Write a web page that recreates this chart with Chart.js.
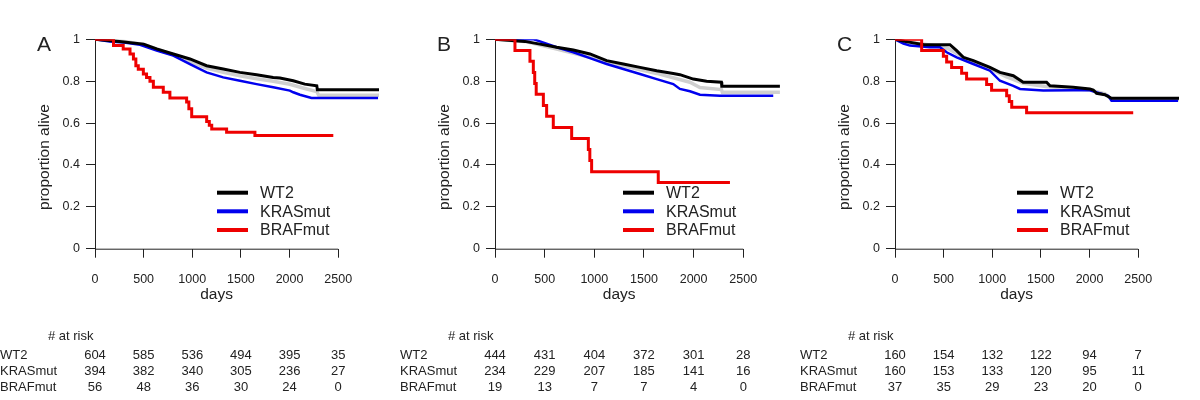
<!DOCTYPE html>
<html>
<head>
<meta charset="utf-8" />
<title>Survival by mutation status</title>
<script src="https://cdn.jsdelivr.net/npm/chart.js@4"></script>
<style>
  body { margin: 0; background: #fff; }
  #wrap { position: relative; width: 1200px; height: 400px; }
  .panel { position: absolute; top: 0; width: 400px; height: 400px; }
</style>
</head>
<body>
<div id="wrap">
  <div class="panel" style="left:0px"><canvas id="chartA" width="400" height="400"></canvas></div>
  <div class="panel" style="left:400px"><canvas id="chartB" width="400" height="400"></canvas></div>
  <div class="panel" style="left:800px"><canvas id="chartC" width="400" height="400"></canvas></div>
</div>
<script>
// groups, axis ticks
const groups = ['WT2', 'KRASmut', 'BRAFmut'];
const groupColors = ['#000000', '#0000ee', '#ee0000'];
const xTicks = [0, 500, 1000, 1500, 2000, 2500];
const xTickLabels = ['0', '500', '1000', '1500', '2000', '2500'];
const yTicks = [0, 0.2, 0.4, 0.6, 0.8, 1];
const yTickLabels = ['0', '0.2', '0.4', '0.6', '0.8', '1'];

// survival curves [days, proportion alive]
const A_WT2 = [[0,1],[250,0.99],[500,0.977],[634,0.954],[805,0.93],[976,0.906],[1147,0.874],[1318,0.858],[1490,0.842],[1661,0.831],[1832,0.818],[1901,0.815],[2038,0.802],[2157,0.786],[2280,0.778],[2286,0.759],[2920,0.759]];
const A_KRAS = [[0,1],[150,0.99],[300,0.985],[463,0.974],[634,0.946],[805,0.922],[976,0.882],[1147,0.842],[1318,0.818],[1490,0.802],[1661,0.786],[1832,0.771],[2003,0.755],[2038,0.747],[2107,0.735],[2226,0.72],[2910,0.72]];
const A_BRAF = [[0,1],[190,0.97],[290,0.954],[360,0.93],[395,0.906],[420,0.874],[445,0.857],[497,0.834],[530,0.818],[565,0.8],[600,0.771],[702,0.747],[770,0.72],[942,0.7],[965,0.668],[994,0.63],[1148,0.608],[1175,0.59],[1200,0.572],[1353,0.556],[1644,0.54],[2450,0.54]];
const A_ALL = [[0,1],[300,0.99],[500,0.975],[650,0.95],[805,0.926],[976,0.895],[1147,0.862],[1318,0.842],[1490,0.826],[1661,0.812],[1832,0.8],[2003,0.785],[2157,0.765],[2280,0.75],[2300,0.733],[2920,0.733]];

const B_WT2 = [[0,1],[300,0.99],[453,0.977],[621,0.962],[789,0.949],[956,0.93],[1124,0.898],[1292,0.882],[1460,0.866],[1628,0.85],[1795,0.837],[1862,0.831],[1997,0.81],[2131,0.8],[2280,0.795],[2284,0.776],[2869,0.776]];
const B_KRAS = [[0,1],[390,1],[453,0.99],[621,0.962],[789,0.938],[956,0.91],[1124,0.882],[1292,0.858],[1460,0.834],[1628,0.81],[1795,0.786],[1862,0.763],[1963,0.752],[2064,0.735],[2265,0.731],[2802,0.731]];
const B_BRAF = [[0,1],[201,0.947],[352,0.895],[386,0.842],[400,0.789],[415,0.737],[487,0.684],[520,0.632],[587,0.579],[772,0.526],[940,0.474],[955,0.421],[973,0.368],[1644,0.316],[2366,0.316]];
const B_ALL = [[0,1],[300,0.99],[621,0.954],[956,0.914],[1124,0.89],[1292,0.874],[1628,0.837],[1963,0.795],[2064,0.77],[2280,0.76],[2290,0.747],[2869,0.747]];

const C_WT2 = [[0,1],[100,0.99],[300,0.974],[565,0.974],[634,0.946],[702,0.914],[805,0.898],[976,0.866],[1079,0.842],[1216,0.826],[1318,0.795],[1558,0.795],[1593,0.778],[1832,0.771],[2003,0.763],[2038,0.758],[2072,0.742],[2158,0.735],[2226,0.718],[2920,0.718]];
const C_KRAS = [[0,1],[86,0.98],[154,0.97],[360,0.962],[463,0.962],[531,0.938],[634,0.914],[805,0.882],[976,0.85],[1079,0.802],[1216,0.778],[1285,0.763],[1524,0.755],[1832,0.757],[2003,0.757],[2192,0.73],[2226,0.707],[2910,0.707]];
const C_BRAF = [[0,1],[274,0.946],[497,0.919],[531,0.892],[582,0.865],[685,0.838],[736,0.811],[942,0.784],[993,0.757],[1148,0.73],[1175,0.703],[1200,0.676],[1353,0.649],[2449,0.649]];
const C_ALL = [[0,1],[150,0.985],[400,0.97],[550,0.955],[700,0.915],[976,0.86],[1147,0.82],[1318,0.79],[1550,0.775],[1832,0.765],[2003,0.758],[2160,0.74],[2226,0.712],[2920,0.712]];

// numbers at risk at each x tick
const A_risk_WT2 = [604, 585, 536, 494, 395, 35];
const A_risk_KRAS = [394, 382, 340, 305, 236, 27];
const A_risk_BRAF = [56, 48, 36, 30, 24, 0];
const B_risk_WT2 = [444, 431, 404, 372, 301, 28];
const B_risk_KRAS = [234, 229, 207, 185, 141, 16];
const B_risk_BRAF = [19, 13, 7, 7, 4, 0];
const C_risk_WT2 = [160, 154, 132, 122, 94, 7];
const C_risk_KRAS = [160, 153, 133, 120, 95, 11];
const C_risk_BRAF = [37, 35, 29, 23, 20, 0];

const FONT = '"Liberation Sans", Arial, Helvetica, sans-serif';
const INK = '#222';
Chart.defaults.font.family = FONT;
Chart.defaults.color = INK;

function pts(arr) {
    return arr.map(p => ({ x: p[0], y: p[1] }));
}

// R-style decorations: axis line, titles, panel letter, legend, risk table
const decorations = {
    id: 'decorations',
    afterDraw(chart, args, opts) {
        const ctx = chart.ctx;
        const xs = chart.scales.x;
        const ys = chart.scales.y;
        const x0 = xs.getPixelForValue(xTicks[0]);
        const x1 = xs.getPixelForValue(xTicks[xTicks.length - 1]);
        ctx.save();

        ctx.strokeStyle = INK;
        ctx.lineWidth = 1;
        ctx.beginPath();
        ctx.moveTo(x0, ys.getPixelForValue(0) + 0.5);
        ctx.lineTo(x1, ys.getPixelForValue(0) + 0.5);
        ctx.stroke();

        ctx.fillStyle = INK;
        ctx.font = '21px ' + FONT;
        ctx.textAlign = 'left';
        ctx.textBaseline = 'alphabetic';
        ctx.fillText(opts.letter, 37, 51);

        ctx.font = '15.5px ' + FONT;
        ctx.textAlign = 'center';
        ctx.textBaseline = 'middle';
        ctx.fillText('days', (x0 + x1) / 2, 295);
        ctx.save();
        ctx.translate(45, 157);
        ctx.rotate(-Math.PI / 2);
        ctx.fillText('proportion alive', 0, 0);
        ctx.restore();

        // legend
        const legY = [192.7, 211.3, 230];
        ctx.font = '16px ' + FONT;
        ctx.textAlign = 'left';
        groups.forEach((g, i) => {
            ctx.strokeStyle = groupColors[i];
            ctx.lineWidth = 4;
            ctx.beginPath();
            ctx.moveTo(opts.legendX, legY[i]);
            ctx.lineTo(opts.legendX + 31, legY[i]);
            ctx.stroke();
            ctx.fillStyle = INK;
            ctx.fillText(g, opts.legendX + 43, legY[i] + 1);
        });

        // numbers at risk
        ctx.font = '13px ' + FONT;
        ctx.fillStyle = INK;
        ctx.textAlign = 'left';
        ctx.fillText('# at risk', 48, 336);
        const rowY = [355, 371, 387];
        groups.forEach((g, i) => {
            ctx.textAlign = 'left';
            ctx.fillText(g, 0, rowY[i]);
            ctx.textAlign = 'center';
            opts.risk[i].forEach((n, j) => {
                ctx.fillText(String(n), xs.getPixelForValue(xTicks[j]), rowY[i]);
            });
        });
        ctx.restore();
    }
};

function makePanel(id, letter, xMax, wt2, kras, braf, all, risk, legendX) {
    const line = (label, data, color, width, stepped) => ({
        label: label,
        data: pts(data),
        borderColor: color,
        borderWidth: width,
        pointRadius: 0,
        fill: false,
        tension: 0,
        stepped: stepped
    });
    return new Chart(document.getElementById(id), {
        type: 'line',
        data: {
            datasets: [
                line(groups[2], braf, groupColors[2], 3, true),
                line(groups[0], wt2, groupColors[0], 3, false),
                line(groups[1], kras, groupColors[1], 2.5, false),
                line('all', all, '#cfcfcf', 3.5, false)
            ]
        },
        options: {
            responsive: false,
            animation: false,
            events: [],
            layout: { padding: { top: 39.3, right: 20, bottom: 0, left: 0 } },
            plugins: {
                legend: { display: false },
                tooltip: { enabled: false },
                decorations: { letter: letter, risk: risk, legendX: legendX }
            },
            scales: {
                x: {
                    type: 'linear',
                    min: 0,
                    max: xMax,
                    border: { display: false },
                    grid: { drawOnChartArea: false, drawTicks: true, tickLength: 9, color: INK },
                    ticks: {
                        font: { size: 12.5 }, color: INK, padding: 14, maxRotation: 0,
                        callback: (v, i) => xTickLabels[i]
                    },
                    afterBuildTicks: s => { s.ticks = xTicks.map(v => ({ value: v })); },
                    afterFit: s => { s.height = 151.3; }
                },
                y: {
                    type: 'linear',
                    min: 0,
                    max: 1,
                    border: { display: true, color: INK, width: 1 },
                    grid: { drawOnChartArea: false, drawTicks: true, tickLength: 9, color: INK },
                    ticks: {
                        font: { size: 12.5 }, color: INK, padding: 6,
                        callback: (v, i) => yTickLabels[i]
                    },
                    afterBuildTicks: s => { s.ticks = yTicks.map(v => ({ value: v })); },
                    afterFit: s => { s.width = 95; }
                }
            }
        },
        plugins: [decorations]
    });
}

makePanel('chartA', 'A', 2930, A_WT2, A_KRAS, A_BRAF, A_ALL, [A_risk_WT2, A_risk_KRAS, A_risk_BRAF], 217);
makePanel('chartB', 'B', 2870, B_WT2, B_KRAS, B_BRAF, B_ALL, [B_risk_WT2, B_risk_KRAS, B_risk_BRAF], 223);
makePanel('chartC', 'C', 2930, C_WT2, C_KRAS, C_BRAF, C_ALL, [C_risk_WT2, C_risk_KRAS, C_risk_BRAF], 217);
</script>
</body>
</html>
